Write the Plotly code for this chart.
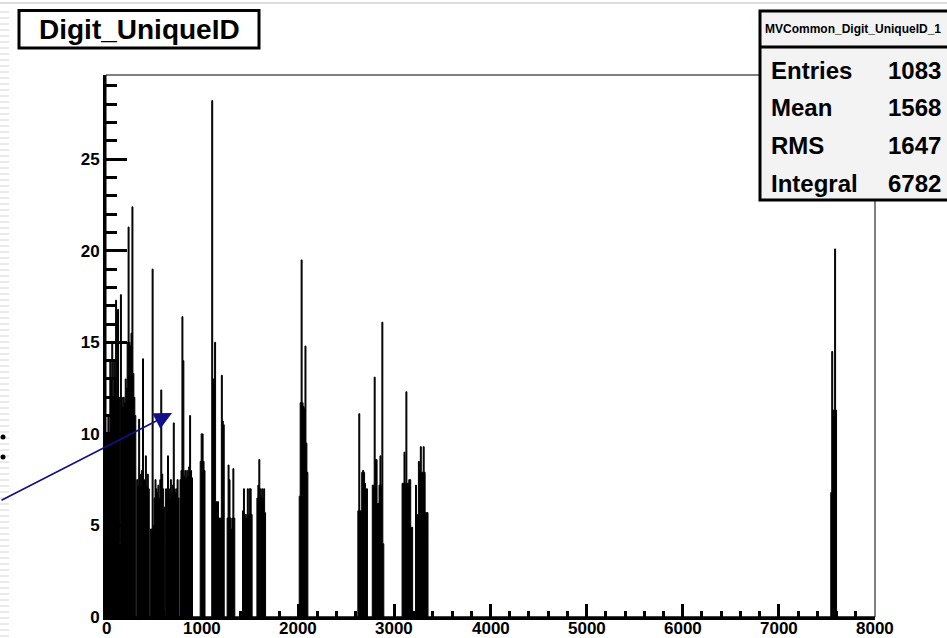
import plotly.graph_objects as go

# ---------------- data (bin width 10) ----------------
BIN_WIDTH = 10
X_MIN, X_MAX = 0, 8000
Y_MAX = 29.6

seg_starts = [0, 980, 1100, 1260, 1420, 1570, 2010, 2620, 2770, 3080, 3220, 7540]
seg_counts = [
    [10, 10, 11, 10, 14, 13, 15, 12, 14, 13,
     17.3, 12, 16.8, 12, 4, 17.6, 12, 11.5, 12, 11.7,
     13, 12.5, 15, 21.3, 15, 14.8, 15.5, 22.4, 13.3, 12,
     11, 0, 7.5, 7.2, 10.8, 7.8, 7.2, 8, 14.1, 7.5,
     7.5, 8.8, 7.2, 7.8, 7, 0, 4.8, 4.8, 19, 5,
     6.5, 7.5, 7, 6.8, 7.2, 6.5, 7.5, 12.4, 7.8, 7,
     6, 0, 7, 6.5, 8.8, 7, 6.5, 7.5, 6.8, 7.2,
     10.6, 7, 6.8, 7, 7.5, 6.5, 0, 7.5, 8, 16.4,
     14, 7.7, 8, 7.6, 8, 7.7, 8.2, 11, 8, 7.6],
    [8.5, 10, 10, 8.5, 8],
    [28.2, 13, 13, 15, 6.3, 6.3, 6.3, 5.4, 5.4, 5.4, 13.2, 10.7, 10.5],
    [5.4, 8.3, 7.5, 5.4, 4.8, 5.4, 8.1, 5.4],
    [5.8, 7.0, 5.4, 5.6, 5.4, 7.0, 5.6, 7.0, 7.0, 5.6],
    [6.5, 7.2, 8.6, 7.0, 6.6, 7.0, 6.5, 7.0, 5.7],
    [6.6, 11.7, 19.5, 11.7, 11.5, 11.4, 14.8, 9.5, 7.9],
    [5.8, 11.1, 5.8, 5.8, 7.9, 8.0, 7.9, 7.3, 7.0, 7.0],
    [7.2, 7.2, 13.1, 8.6, 8.6, 6.2, 6.2, 7.2, 8.8, 7.2, 16.1, 4.0],
    [7.3, 7.3, 9.0, 7.3, 12.3, 7.3, 7.3, 7.5, 7.5, 4.9, 4.9],
    [7.2, 5.6, 5.6, 8.5, 8.0, 9.3, 7.9, 7.9, 9.3, 7.9, 5.7, 5.7, 5.7],
    [6.8, 14.5, 11.3, 11.3, 20.1, 11.3],
]

x_tick_vals = [0, 1000, 2000, 3000, 4000, 5000, 6000, 7000, 8000]
x_tick_text = ["0", "1000", "2000", "3000", "4000", "5000", "6000", "7000", "8000"]

title_text = "Digit_UniqueID"
stats_name = "MVCommon_Digit_UniqueID_1"
stats_labels = ["Entries", "Mean", "RMS", "Integral"]
stats_values = ["1083", "1568", "1647", "6782"]

# ---------------- build step outline ----------------
xs, ys = [X_MIN], [0]
for start, counts in zip(seg_starts, seg_counts):
    for i, c in enumerate(counts):
        xs.append(start + i * BIN_WIDTH)
        ys.append(c)
    xs.append(start + len(counts) * BIN_WIDTH)
    ys.append(0)
xs.append(X_MAX)
ys.append(0)

W, H = 947, 638
L, R, T, B = 106, 875, 75, 617
PW, PH = R - L, B - T


def px(x):
    return (x - L) / PW


def py(y):
    return (B - y) / PH


FONT = "Liberation Sans, Arial, sans-serif"

fig = go.Figure()
fig.add_trace(go.Scatter(
    x=xs, y=ys, mode="lines", line=dict(shape="hv", color="black", width=1),
    fill="tozeroy", fillcolor="black", hoverinfo="skip", showlegend=False))

shapes = []
# slide decorations: grey stripes at left edge and top line
for yy in range(12, H, 6):
    shapes.append(dict(type="line", xref="paper", yref="paper",
                       x0=px(0), x1=px(9), y0=py(yy), y1=py(yy),
                       line=dict(color="#d6d6d6", width=1), layer="below"))
shapes.append(dict(type="line", xref="paper", yref="paper", x0=px(0), x1=px(W),
                   y0=py(3), y1=py(3), line=dict(color="#dcdcdc", width=2)))
# bullets
for by in (437, 457):
    shapes.append(dict(type="circle", xref="paper", yref="paper",
                       x0=px(0.5), x1=px(5.5), y0=py(by - 2.5), y1=py(by + 2.5),
                       fillcolor="black", line=dict(width=0)))
# frame thin top/right
shapes.append(dict(type="rect", xref="paper", yref="paper", x0=0, x1=1, y0=0, y1=1,
                   line=dict(color="black", width=1)))
# title box
shapes.append(dict(type="rect", xref="paper", yref="paper",
                   x0=px(19), x1=px(259), y0=py(48), y1=py(10.5),
                   fillcolor="white", line=dict(color="black", width=3)))
# stats box
shapes.append(dict(type="rect", xref="paper", yref="paper",
                   x0=px(760), x1=px(970), y0=py(200), y1=py(11),
                   fillcolor="#f3f3f3", line=dict(color="black", width=3)))
shapes.append(dict(type="line", xref="paper", yref="paper",
                   x0=px(760), x1=px(970), y0=py(47), y1=py(47),
                   line=dict(color="black", width=3)))

annotations = [
    dict(xref="paper", yref="paper", x=px(139), y=py(29), text=title_text,
         showarrow=False, xanchor="center", yanchor="middle",
         font=dict(family=FONT, size=28, color="black", weight="bold")),
    dict(xref="paper", yref="paper", x=px(763), y=py(29), text=stats_name,
         showarrow=False, xanchor="left", yanchor="middle",
         font=dict(family=FONT, size=12, color="black", weight="bold")),
]
for i, (lab, val) in enumerate(zip(stats_labels, stats_values)):
    yc = 70 + i * 37.7
    annotations.append(dict(xref="paper", yref="paper", x=px(769), y=py(yc), text=lab,
                            showarrow=False, xanchor="left", yanchor="middle",
                            font=dict(family=FONT, size=24, color="black", weight="bold")))
    annotations.append(dict(xref="paper", yref="paper", x=px(886), y=py(yc), text=val,
                            showarrow=False, xanchor="left", yanchor="middle",
                            font=dict(family=FONT, size=24, color="black", weight="bold")))
# x tick labels (placed close to the axis, as in the reference)
for v, t in zip(x_tick_vals, x_tick_text):
    annotations.append(dict(xref="x", yref="paper", x=v, y=py(628), text=t,
                            showarrow=False, xanchor="center", yanchor="middle",
                            font=dict(family=FONT, size=17, color="black", weight="bold")))
# blue arrow
annotations.append(dict(xref="paper", yref="paper", x=px(172), y=py(413), text="",
                        showarrow=True, axref="pixel", ayref="pixel", ax=-180, ay=88,
                        arrowhead=2, arrowsize=2.2, arrowwidth=1.6, arrowcolor="#10108a"))

tickfont = dict(family=FONT, size=17, color="black", weight="bold")
fig.update_layout(
    width=W, height=H, margin=dict(l=L, r=W - R, t=T, b=H - B, autoexpand=False),
    paper_bgcolor="white", plot_bgcolor="white", showlegend=False,
    shapes=shapes, annotations=annotations,
    xaxis=dict(range=[X_MIN, X_MAX], showgrid=False, zeroline=False, showline=True,
               linecolor="black", linewidth=3, ticks="inside", ticklen=13, tickwidth=3,
               tickcolor="black", tick0=0, dtick=1000, showticklabels=False,
               minor=dict(dtick=200, ticklen=6, tickwidth=3, tickcolor="black",
                          ticks="inside", showgrid=False)),
    yaxis=dict(range=[0, Y_MAX], showgrid=False, zeroline=False, showline=True,
               linecolor="black", linewidth=3, ticks="inside", ticklen=21, tickwidth=3,
               tickcolor="black", tick0=0, dtick=5, tickfont=tickfont,
               minor=dict(dtick=1, ticklen=11, tickwidth=3, tickcolor="black",
                          ticks="inside", showgrid=False)),
)

fig.write_html("out.html")
